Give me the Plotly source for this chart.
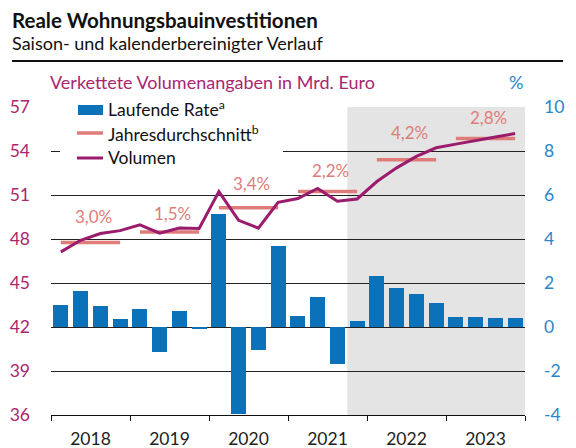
import plotly.graph_objects as go

# ---------------- data ----------------
quarters = [f"{y}Q{q}" for y in range(2018, 2024) for q in range(1, 5)]
years = ["2018", "2019", "2020", "2021", "2022", "2023"]
rate = [1.01, 1.65, 0.97, 0.38,
        0.83, -1.15, 0.74, -0.06,
        5.15, -3.94, -1.03, 3.66,
        0.51, 1.38, -1.67, 0.29,
        2.30, 1.79, 1.48, 1.10,
        0.47, 0.47, 0.42, 0.42]
volumen = [47.12, 47.91, 48.37, 48.57,
           48.97, 48.40, 48.75, 48.72,
           51.23, 49.27, 48.74, 50.50,
           50.76, 51.45, 50.58, 50.73,
           51.92, 52.85, 53.63, 54.22,
           54.47, 54.73, 54.96, 55.19]
annual_avg = [47.76, 48.48, 50.13, 51.24, 53.40, 54.85]
annual_label = ["3,0%", "1,5%", "3,4%", "2,2%", "4,2%", "2,8%"]
forecast_start = "2021Q4"
left_ticks = [36, 39, 42, 45, 48, 51, 54, 57]
right_ticks = [-4, -2, 0, 2, 4, 6, 8, 10]
right_ticktext = ["-4", "-2", "0", "2", "4", "6", "8", "10"]

# ---------------- styles ----------------
FONT = "Lato"
C_BAR = "#0B72B9"
C_LINE = "#9B1B6C"
C_AVG = "#DE7C7A"
C_LEFT = "#A8276F"
C_RIGHT = "#2A86CB"
C_SHADE = "#E4E4E4"
label_yshift = [26, 18, 24, 21, 27, 21]

W, H = 576, 448
L, R, T, B = 51, 51, 107, 33
PW, PH = W - L - R, H - T - B


def px(x):
    return (x - L) / PW


def py(y):
    return (H - B - y) / PH


xi = list(range(len(quarters)))

fig = go.Figure()

fig.add_trace(go.Bar(x=xi, y=rate, yaxis="y2", marker_color=C_BAR,
                     marker_line_width=0, width=0.76, showlegend=False,
                     name="Laufende Rate"))

for k, v in enumerate(annual_avg):
    fig.add_trace(go.Scatter(x=[4 * k, 4 * k + 3], y=[v, v], mode="lines",
                             line=dict(color=C_AVG, width=3.5), showlegend=False,
                             hoverinfo="skip"))
    fig.add_annotation(x=4 * k + 1.5, y=v, xref="x", yref="y", text=annual_label[k],
                       showarrow=False, yshift=label_yshift[k], xshift=3,
                       font=dict(family=FONT, size=17, color=C_AVG))

fig.add_trace(go.Scatter(x=xi, y=volumen, mode="lines",
                         line=dict(color=C_LINE, width=3), showlegend=False,
                         name="Volumen"))

# forecast shading
fs = quarters.index(forecast_start)
fig.add_shape(type="rect", xref="x", yref="paper", x0=fs - 0.5, x1=len(quarters) - 0.5,
              y0=0, y1=1, fillcolor=C_SHADE, line_width=0, layer="below")

# ---------------- legend (manual) ----------------
fig.add_shape(type="rect", xref="paper", yref="paper", x0=px(60), x1=px(283),
              y0=py(176), y1=py(93), fillcolor="white", line_width=0, layer="above")
fig.add_shape(type="rect", xref="paper", yref="paper", x0=px(78), x1=px(103),
              y0=py(115), y1=py(105), fillcolor=C_BAR, line_width=0, layer="above")
fig.add_shape(type="line", xref="paper", yref="paper", x0=px(77), x1=px(103),
              y0=py(133), y1=py(133), line=dict(color=C_AVG, width=3.5), layer="above")
fig.add_shape(type="line", xref="paper", yref="paper", x0=px(77), x1=px(103),
              y0=py(158), y1=py(158), line=dict(color=C_LINE, width=3), layer="above")
for txt, yy in [("Laufende Rate<sup>a</sup>", 109), ("Jahresdurchschnitt<sup>b</sup>", 133),
                ("Volumen", 157)]:
    fig.add_annotation(x=px(106), y=py(yy), xref="paper", yref="paper", text=txt,
                       showarrow=False, xanchor="left", yanchor="middle",
                       font=dict(family=FONT, size=17.5, color="#111111"))

# ---------------- header ----------------
fig.add_annotation(x=px(10), y=py(20), xref="paper", yref="paper",
                   text="<b>Reale Wohnungsbauinvestitionen</b>", showarrow=False,
                   xanchor="left", yanchor="middle",
                   font=dict(family=FONT, size=20.5, color="#111111"))
fig.add_annotation(x=px(10), y=py(43), xref="paper", yref="paper",
                   text="Saison- und kalenderbereinigter Verlauf", showarrow=False,
                   xanchor="left", yanchor="middle",
                   font=dict(family=FONT, size=18, color="#111111"))
fig.add_shape(type="line", xref="paper", yref="paper", x0=px(12), x1=px(563),
              y0=py(61), y1=py(61), line=dict(color="#111111", width=2))
fig.add_annotation(x=px(48), y=py(82), xref="paper", yref="paper",
                   text="Verkettete Volumenangaben in Mrd. Euro", showarrow=False,
                   xanchor="left", yanchor="middle",
                   font=dict(family=FONT, size=18, color=C_LEFT))
fig.add_annotation(x=1, y=py(82), xref="paper", yref="paper", text="%",
                   showarrow=False, xanchor="right", yanchor="middle",
                   font=dict(family=FONT, size=18, color=C_RIGHT))

# ---------------- axes ----------------
fig.update_layout(
    width=W, height=H,
    margin=dict(l=L, r=R, t=T, b=B, pad=0, autoexpand=False),
    paper_bgcolor="white", plot_bgcolor="white",
    bargap=0,
    xaxis=dict(range=[-0.5, len(quarters) - 0.5], automargin=False,
               tickvals=[4 * k + 1.5 for k in range(len(years))], ticktext=years,
               ticks="", showgrid=False, zeroline=False,
               showline=True, linecolor="#111111", linewidth=1,
               ticklabelstandoff=8,
               tickfont=dict(family=FONT, size=17.5, color="#222222"),
               minor=dict(tickvals=[4 * k - 0.5 for k in range(len(years) + 1)],
                          ticks="outside", ticklen=5, tickcolor="#111111",
                          tickwidth=1, showgrid=False),
               fixedrange=True),
    yaxis=dict(range=[36, 57], tickvals=left_ticks, showgrid=True, automargin=False,
               gridcolor="#222222", gridwidth=1, zeroline=False, ticks="",
               ticklabelstandoff=20,
               tickfont=dict(family=FONT, size=17.5, color=C_LEFT)),
    yaxis2=dict(range=[-4, 10], tickvals=right_ticks, ticktext=right_ticktext,
                overlaying="y", side="right", automargin=False,
                showgrid=False, zeroline=False, ticks="", ticklabelstandoff=18,
                tickfont=dict(family=FONT, size=17.5, color=C_RIGHT)),
    showlegend=False,
)

fig.write_html("out.html", config={"displayModeBar": False},
               post_script="document.body.style.margin='0';")
